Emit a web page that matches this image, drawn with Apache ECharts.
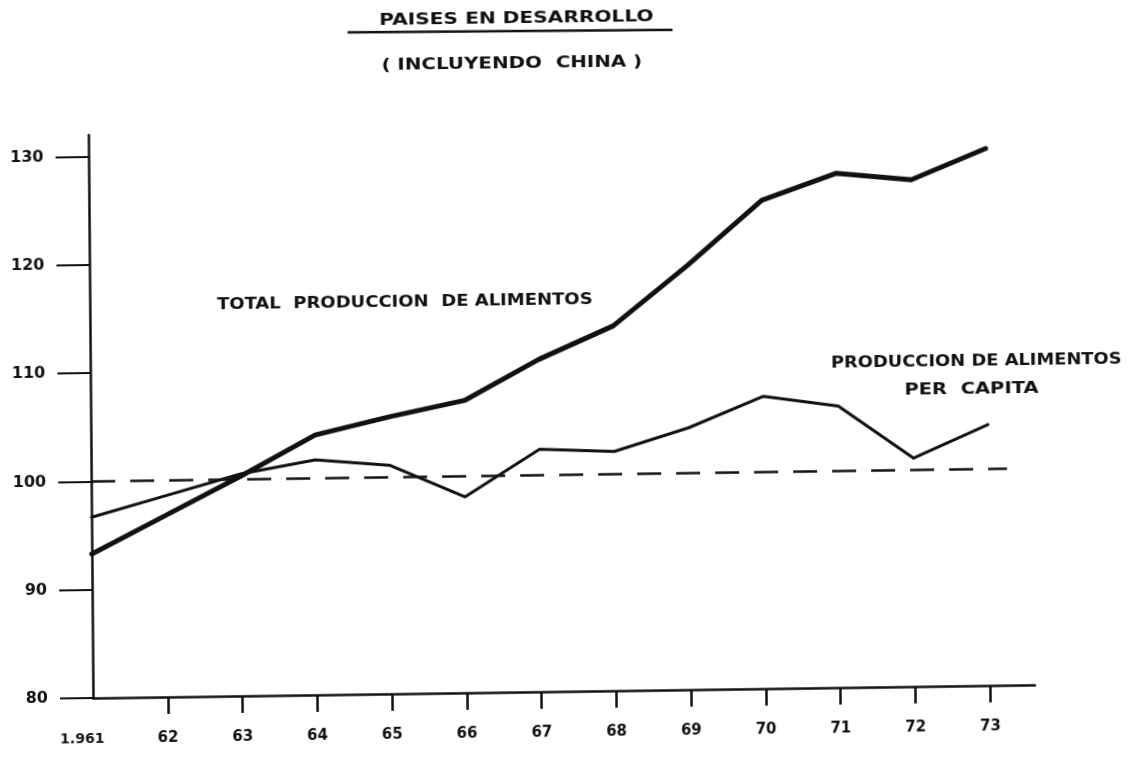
<!DOCTYPE html>
<html>
<head>
<meta charset="utf-8">
<script src="https://cdn.jsdelivr.net/npm/echarts@6/dist/echarts.min.js"></script>
<style>
  html, body { margin: 0; padding: 0; background: #fff; }
  /* the scanned sheet sits slightly tilted, right side higher */
  #chart { width: 1135px; height: 758px; transform: rotate(-0.47deg) skewY(-0.33deg); transform-origin: 93px 698px; }
</style>
</head>
<body>
<div id="chart"></div>
<script>
// indices 1961 = base
var years = [1961, 1962, 1963, 1964, 1965, 1966, 1967, 1968, 1969, 1970, 1971, 1972, 1973];
var totalProduccion = [93.3, 96.8, 100.3, 104.0, 105.6, 107.0, 110.7, 113.7, 119.2, 125.1, 127.5, 126.8, 129.6];
var perCapita = [96.7, 98.6, 100.5, 101.7, 101.1, 98.1, 102.4, 102.1, 104.2, 107.0, 106.0, 101.1, 104.1];
var yTicks = [80, 90, 100, 110, 120, 130];
var xTicks = [1962, 1963, 1964, 1965, 1966, 1967, 1968, 1969, 1970, 1971, 1972, 1973];
var baseLevel = 100;
var baseLineEnd = 1973.25;

var ink = '#111';
var font = '"DejaVu Sans", sans-serif';

function pairs(vals) {
    var out = [];
    for (var i = 0; i < years.length; i++) {
        out.push([years[i], vals[i]]);
    }
    return out;
}

function label(text, x, y, size, sx) {
    return {
        type: 'text',
        x: x,
        y: y,
        scaleX: sx,
        style: {
            text: text,
            font: 'bold ' + size + 'px ' + font,
            fill: ink,
            align: 'center',
            verticalAlign: 'middle',
            textAlign: 'center',
            textVerticalAlign: 'middle'
        }
    };
}

var chart = echarts.init(document.getElementById('chart'));
chart.setOption({
    animation: false,
    backgroundColor: '#fff',
    grid: { left: 93, right: 100, top: 135, bottom: 60 },
    xAxis: {
        type: 'value',
        min: 1961,
        max: 1973.6,
        splitLine: { show: false },
        axisLine: { onZero: false, lineStyle: { color: ink, width: 2.5 } },
        axisTick: { show: true, length: 17, customValues: xTicks, lineStyle: { color: ink, width: 2.5 } },
        axisLabel: {
            customValues: years,
            margin: 34,
            color: ink,
            fontFamily: font,
            fontWeight: 'bold',
            fontSize: 15,
            formatter: function (v) {
                if (v == 1961) return '{first|1.961}';
                return String(v).slice(2);
            },
            rich: {
                first: { fontFamily: font, fontWeight: 'bold', fontSize: 14, color: ink, padding: [0, 22, 0, 0] }
            }
        }
    },
    yAxis: {
        type: 'value',
        min: 80,
        max: 132,
        splitLine: { show: false },
        axisLine: { show: true, onZero: false, lineStyle: { color: ink, width: 2.5 } },
        axisTick: { show: true, length: 33, customValues: yTicks, lineStyle: { color: ink, width: 2 } },
        axisLabel: {
            customValues: yTicks,
            margin: 45,
            color: ink,
            fontFamily: font,
            fontWeight: 'bold',
            fontSize: 16
        }
    },
    series: [
        {
            name: 'base',
            type: 'line',
            symbol: 'none',
            silent: true,
            data: [[1961, baseLevel], [baseLineEnd, baseLevel]],
            lineStyle: { color: ink, width: 2.5, type: [24, 15] },
            z: 1
        },
        {
            name: 'TOTAL PRODUCCION DE ALIMENTOS',
            type: 'line',
            symbol: 'none',
            data: pairs(totalProduccion),
            lineStyle: { color: ink, width: 5, cap: 'round', join: 'round' },
            z: 3
        },
        {
            name: 'PRODUCCION DE ALIMENTOS PER CAPITA',
            type: 'line',
            symbol: 'none',
            data: pairs(perCapita),
            lineStyle: { color: ink, width: 3, cap: 'round', join: 'round' },
            z: 2
        }
    ],
    graphic: [
        label('PAISES EN DESARROLLO', 522, 25, 16, 1.26),
        {
            type: 'line',
            shape: { x1: 353, y1: 36, x2: 678, y2: 38 },
            style: { stroke: ink, lineWidth: 2.5 }
        },
        label('( INCLUYENDO  CHINA )', 517, 70, 16, 1.24),
        label('TOTAL  PRODUCCION  DE ALIMENTOS', 408, 307, 15, 1.2),
        label('PRODUCCION DE ALIMENTOS', 979, 374, 15, 1.19),
        label('PER  CAPITA', 974, 402, 15, 1.3)
    ]
});
</script>
</body>
</html>
